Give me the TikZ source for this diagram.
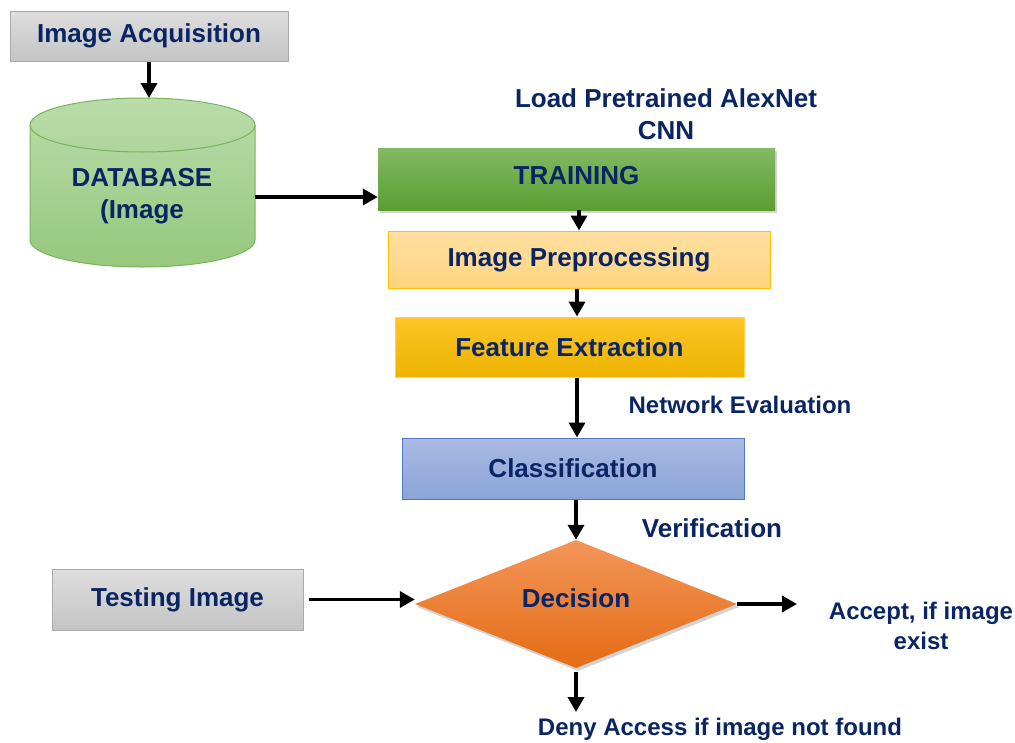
\documentclass[tikz,border=0pt]{standalone}
\usepackage{fontspec}
\setmainfont{Liberation Sans}
\usepackage{tikz}
\usetikzlibrary{calc}
\usetikzlibrary{shapes.geometric}
\usetikzlibrary{shadows}
\usetikzlibrary{arrows.meta}
\definecolor{navy}{RGB}{10,37,100}
\definecolor{grayhi}{RGB}{222,222,222}
\definecolor{graylo}{RGB}{196,196,196}
\definecolor{grayln}{RGB}{170,170,170}
\definecolor{cylhi}{RGB}{186,220,170}
\definecolor{cyllo}{RGB}{150,200,125}
\definecolor{cylln}{RGB}{120,180,90}
\definecolor{trainhi}{RGB}{130,186,100}
\definecolor{trainlo}{RGB}{90,158,50}
\definecolor{prephi}{RGB}{255,224,160}
\definecolor{preplo}{RGB}{255,212,130}
\definecolor{prepln}{RGB}{255,192,0}
\definecolor{feathi}{RGB}{255,196,40}
\definecolor{featlo}{RGB}{236,180,0}
\definecolor{featln}{RGB}{255,210,80}
\definecolor{clashi}{RGB}{170,186,226}
\definecolor{claslo}{RGB}{140,164,216}
\definecolor{clasln}{RGB}{80,120,200}
\definecolor{dechi}{RGB}{244,150,90}
\definecolor{declo}{RGB}{228,108,20}
\tikzstyle{box} = [rectangle, inner sep=0pt, text=navy, font=\fontsize{26}{32}\selectfont\bfseries, align=center]
\tikzstyle{graybox} = [box, top color=grayhi, bottom color=graylo, draw=grayln, line width=1pt]
\tikzstyle{side} = [text=navy, font=\fontsize{24}{30}\selectfont\bfseries, align=center]
\tikzstyle{arrow} = [-{Triangle[length=15pt,width=16pt]}, line width=3.6pt]

\begin{document}
\begin{tikzpicture}[x=1pt,y=-1pt]
	\useasboundingbox (0,0) rectangle (1015,742);

	\node[graybox, minimum width=278pt, minimum height=50pt] (acq) at (149,36) {\raisebox{-6pt}{Image Acquisition}};

	% database drum
	\coordinate (dbtop) at (149,98);
	\coordinate (dbright) at (255,197);
	\draw[cylln, line width=1pt, top color=cylhi, bottom color=cyllo] (30,125) -- (30,240)
		arc[start angle=180, end angle=360, x radius=112.5pt, y radius=27pt] -- (255,125)
		arc[start angle=0, end angle=180, x radius=112.5pt, y radius=27pt] -- cycle;
	\draw[cylln, line width=1pt] (30,125) arc[start angle=180, end angle=360, x radius=112.5pt, y radius=27pt];
	\node[box] (db) at (142,196) {DATABASE\\(Image};

	\node[box, minimum width=397pt, minimum height=62pt, top color=trainhi, bottom color=trainlo,
		drop shadow={shadow xshift=2pt, shadow yshift=-3pt, opacity=0.35}] (train) at (576.5,179) {\raisebox{8pt}{TRAINING}};
	\node[side, font=\fontsize{26}{32}\selectfont\bfseries] (cnn) at (666,114) {Load Pretrained AlexNet\\CNN};
	\node[box, minimum width=382pt, minimum height=57pt, top color=prephi, bottom color=preplo,
		draw=prepln, line width=1pt] (prep) at (579,259.5) {Image Preprocessing};
	\node[box, minimum width=349pt, minimum height=60pt, top color=feathi, bottom color=featlo,
		draw=featln, line width=1pt] (feat) at (569.5,347) {Feature Extraction};
	\node[box, minimum width=342pt, minimum height=61pt, top color=clashi, bottom color=claslo,
		draw=clasln, line width=1pt] (clas) at (573,468.5) {Classification};
	\node[diamond, text=navy, font=\fontsize{26}{32}\selectfont\bfseries, inner sep=0pt, aspect=2.5,
		minimum width=322pt, minimum height=128pt, top color=dechi, bottom color=declo,
		drop shadow={shadow xshift=2pt, shadow yshift=-3pt, opacity=0.35}] (dec) at (576,604) {\raisebox{12pt}{Decision}};
	\node[graybox, minimum width=251pt, minimum height=61pt] (test) at (177.5,599.5) {Testing Image};

	\node[side] (neteval) at (740,405) {Network Evaluation};
	\node[side, font=\fontsize{26}{32}\selectfont\bfseries] (verif) at (712,528) {Verification};
	\node[side] (accept) at (921,626) {Accept, if image\\exist};
	\node[side] (deny) at (720,729) {Deny Access if image not found};
	\coordinate (acc) at (797,607);
	\coordinate (den) at (576,712);

	\draw[arrow] (acq.south) -- (dbtop);
	\draw[arrow] (dbright) -- (dbright -| train.west);
	\draw[arrow] (train.south -| prep.north) -- (prep.north);
	\draw[arrow] (prep.south -| 577,0) -- (feat.north -| 577,0);
	\draw[arrow] (feat.south -| 577,0) -- (clas.north -| 577,0);
	\draw[arrow] (clas.south -| dec.north) -- (dec.north);
	\draw[arrow, shorten <=5pt] (test.east) -- (test.east -| dec.west);
	\draw[arrow] (dec.east) -- (dec.east -| acc);
	\draw[arrow, shorten <=4pt] (dec.south) -- (den);

\end{tikzpicture}
\end{document}
